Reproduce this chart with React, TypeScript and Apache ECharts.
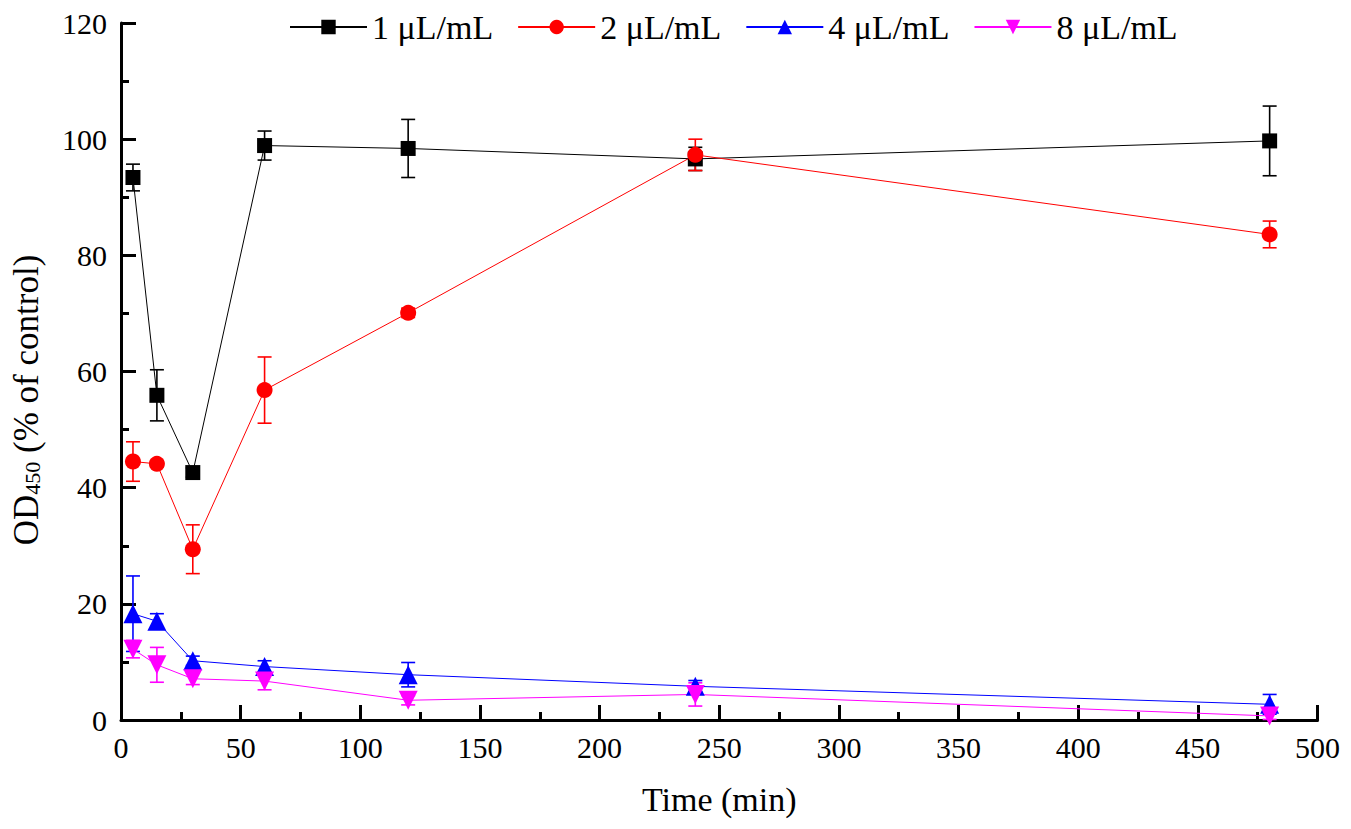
import React, { useEffect, useRef } from "react";
import * as echarts from "echarts";

const times = [5, 15, 30, 60, 120, 240, 480];
const seriesNames = ["1 μL/mL", "2 μL/mL", "4 μL/mL", "8 μL/mL"];
const s1 = [93.4, 55.9, 42.6, 98.9, 98.4, 96.6, 99.7];
const e1 = [2.3, 4.4, 0.8, 2.5, 5.0, 2.0, 6.0];
const s2 = [44.5, 44.1, 29.4, 56.8, 70.1, 97.3, 83.6];
const e2 = [3.4, 0.5, 4.2, 5.7, 0.8, 2.7, 2.3];
const s3 = [18.3, 17.0, 10.2, 9.2, 7.8, 5.8, 2.7];
const e3 = [6.5, 1.3, 0.8, 1.0, 2.1, 1.0, 1.7];
const s4 = [12.2, 9.5, 7.1, 6.7, 3.4, 4.4, 0.7];
const e4 = [1.5, 3.0, 1.0, 1.5, 0.8, 2.0, 0.6];
const colors = ["#000000", "#ff0000", "#0000ff", "#ff00ff"];
const symbols = ["rect", "circle", "triangle", "triangle"];
const rotations = [0, 0, 0, 180];
const symbolSizes = [15, 16, 19, 19];

const FONT = "Liberation Serif";

export default function App() {
  const ref = useRef<HTMLDivElement>(null);
  useEffect(() => {
    if (!ref.current) return;
    const chart = echarts.init(ref.current, undefined, { renderer: "svg" });
    const values = [s1, s2, s3, s4];
    const errs = [e1, e2, e3, e4];
    const lineSeries: any[] = values.map((vals, i) => ({
      name: seriesNames[i],
      type: "line",
      data: times.map((t, j) => [t, vals[j]]),
      symbol: symbols[i],
      symbolRotate: rotations[i],
      symbolSize: symbolSizes[i],
      lineStyle: { color: colors[i], width: 1 },
      itemStyle: { color: colors[i] },
      z: 3,
    }));
    const errSeries: any[] = values.map((vals, i) => ({
      name: seriesNames[i] + " err",
      type: "custom",
      data: times.map((t, j) => [t, vals[j], errs[i][j]]),
      z: 2,
      renderItem: (params: any, api: any) => {
        const x = api.value(0);
        const y = api.value(1);
        const e = api.value(2);
        const top = api.coord([x, y + e]);
        const bot = api.coord([x, y - e]);
        const hw = 7;
        const st = { stroke: colors[i], lineWidth: 1.6 };
        return {
          type: "group",
          children: [
            { type: "line", shape: { x1: top[0], y1: top[1], x2: bot[0], y2: bot[1] }, style: st },
            { type: "line", shape: { x1: top[0] - hw, y1: top[1], x2: top[0] + hw, y2: top[1] }, style: st },
            { type: "line", shape: { x1: bot[0] - hw, y1: bot[1], x2: bot[0] + hw, y2: bot[1] }, style: st },
          ],
        };
      },
    }));
    chart.setOption({
      animation: false,
      backgroundColor: "#ffffff",
      textStyle: { fontFamily: FONT, color: "#000" },
      grid: { left: 113, right: 16, top: 7, bottom: 100, containLabel: false },
      legend: {
        data: seriesNames,
        left: 281,
        top: 2,
        padding: 0,
        itemWidth: 77,
        itemHeight: 18,
        itemGap: 24,
        textStyle: { fontFamily: FONT, fontSize: 34, color: "#000" },
      },
      xAxis: {
        type: "value",
        min: 0,
        max: 500,
        interval: 50,
        name: "Time (min)",
        nameLocation: "middle",
        nameGap: 62,
        nameTextStyle: { fontFamily: FONT, fontSize: 34, color: "#000" },
        axisLine: { show: true, lineStyle: { color: "#000", width: 3 } },
        axisTick: { show: true, inside: true, length: 15, lineStyle: { color: "#000", width: 3 } },
        minorTick: { show: true, splitNumber: 2, length: 8, lineStyle: { color: "#000", width: 3 } },
        axisLabel: { fontFamily: FONT, fontSize: 30, color: "#000", margin: 12 },
        splitLine: { show: false },
      },
      yAxis: {
        type: "value",
        min: 0,
        max: 120,
        interval: 20,
        axisLine: { show: true, lineStyle: { color: "#000", width: 3 } },
        axisTick: { show: true, inside: true, length: 15, lineStyle: { color: "#000", width: 3 } },
        minorTick: { show: true, splitNumber: 2, length: 8, lineStyle: { color: "#000", width: 3 } },
        axisLabel: { fontFamily: FONT, fontSize: 30, color: "#000", margin: 14 },
        splitLine: { show: false },
      },
      graphic: [
        {
          type: "text",
          x: 18,
          y: 392,
          rotation: Math.PI / 2,
          style: {
            text: "{m|OD}{s|450}{m| (% of control)}",
            textAlign: "center",
            textVerticalAlign: "middle",
            fill: "#000",
            rich: {
              m: { fontFamily: FONT, fontSize: 35, lineHeight: 34, fill: "#000" },
              s: { fontFamily: FONT, fontSize: 22, lineHeight: 34, fill: "#000", verticalAlign: "bottom", padding: [14, 0, 0, 0] },
            },
          },
        },
      ],
      series: [...errSeries, ...lineSeries],
    });
    return () => chart.dispose();
  }, []);
  return <div ref={ref} style={{ width: 1335, height: 813 }} />;
}
